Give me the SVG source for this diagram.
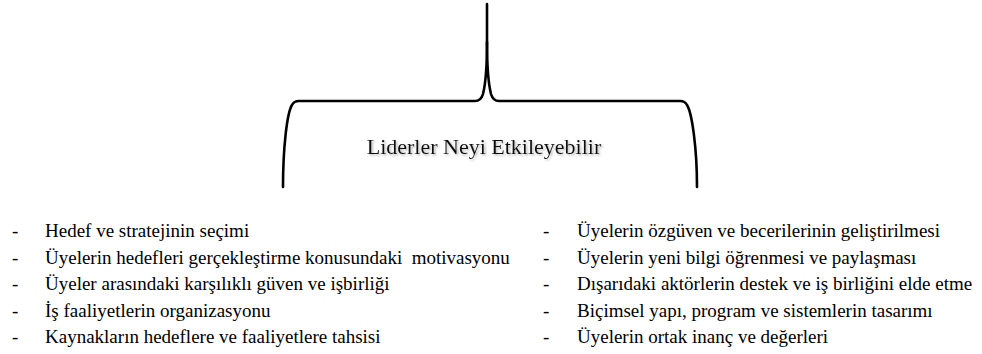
<svg xmlns="http://www.w3.org/2000/svg" width="982" height="354" viewBox="0 0 982 354">
  <style>
    .brace { fill: none; stroke: #000; stroke-width: 2.6; stroke-linecap: round; stroke-linejoin: round; }
    .title { font-family: 'Liberation Serif', 'Times New Roman', Tinos, 'DejaVu Serif', serif; font-size: 22px; fill: #111; }
    .item { font-family: 'Liberation Serif', 'Times New Roman', Tinos, 'DejaVu Serif', serif; font-size: 19px; fill: #000; }
  </style>
  <defs>
    <filter id="soft-shadow" x="-10%" y="-30%" width="120%" height="160%">
      <feDropShadow dx="1.5" dy="1.5" stdDeviation="1" flood-color="#777" flood-opacity="0.55"/>
    </filter>
  </defs>
  <rect width="982" height="354" fill="#fff"/>

  <!-- curly brace joining the single stem to the two item columns -->
  <g id="connectors">
    <path class="brace" d="M283,187 C283,148 287,113 292,105 Q294,101 299,101 L475,101 Q481,101 483,94 C486,82 487,62 487,42 L487,4"/>
    <path class="brace" d="M487,42 C487,62 488,82 491,94 Q493,101 499,101 L680,101 Q685,101 687,105 C692,113 697,148 697,187"/>
  </g>

  <g id="title">
    <text class="title" font-family="Liberation Serif, serif" x="484" y="154" text-anchor="middle" filter="url(#soft-shadow)">Liderler Neyi Etkileyebilir</text>
  </g>

  <g id="left-list" font-family="Liberation Serif, serif">
    <text class="item" x="12" y="237">-</text>
    <text class="item" x="45" y="237">Hedef ve stratejinin seçimi</text>
    <text class="item" x="12" y="263.5">-</text>
    <text class="item" x="45" y="263.5" xml:space="preserve">Üyelerin hedefleri gerçekleştirme konusundaki  motivasyonu</text>
    <text class="item" x="12" y="290">-</text>
    <text class="item" x="45" y="290">Üyeler arasındaki karşılıklı güven ve işbirliği</text>
    <text class="item" x="12" y="316.5">-</text>
    <text class="item" x="45" y="316.5">İş faaliyetlerin organizasyonu</text>
    <text class="item" x="12" y="343">-</text>
    <text class="item" x="45" y="343">Kaynakların hedeflere ve faaliyetlere tahsisi</text>
  </g>

  <g id="right-list" font-family="Liberation Serif, serif">
    <text class="item" x="543" y="237">-</text>
    <text class="item" x="577" y="237">Üyelerin özgüven ve becerilerinin geliştirilmesi</text>
    <text class="item" x="543" y="263.5">-</text>
    <text class="item" x="577" y="263.5">Üyelerin yeni bilgi öğrenmesi ve paylaşması</text>
    <text class="item" x="543" y="290">-</text>
    <text class="item" x="577" y="290">Dışarıdaki aktörlerin destek ve iş birliğini elde etme</text>
    <text class="item" x="543" y="316.5">-</text>
    <text class="item" x="577" y="316.5">Biçimsel yapı, program ve sistemlerin tasarımı</text>
    <text class="item" x="543" y="343">-</text>
    <text class="item" x="577" y="343">Üyelerin ortak inanç ve değerleri</text>
  </g>
</svg>
